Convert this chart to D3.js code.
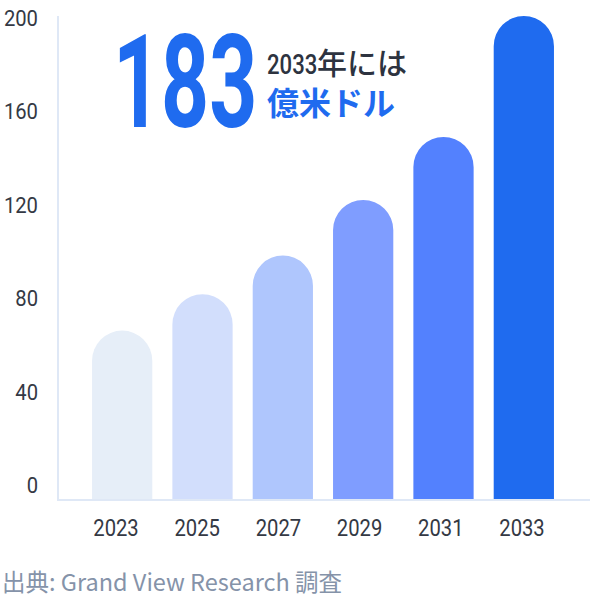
<!DOCTYPE html>
<html>
<head>
<meta charset="utf-8">
<script src="https://cdn.jsdelivr.net/npm/d3@7.9.0/dist/d3.min.js"></script>
<style>
  body { margin: 0; background: #fff; }
  svg { display: block; }
</style>
</head>
<body>
<div id="chart"></div>
<script>
// data (億米ドル)
const years = ['2023', '2025', '2027', '2029', '2031', '2033'];
const values = [70, 85, 101, 124, 150, 200];
const barColors = ['#e6eef8', '#d2defc', '#afc6fd', '#7f9dff', '#5381fe', '#1f6bef'];
const yTicks = [0, 40, 80, 120, 160, 200];

const headline = '183';
const headlineLine1 = ['2033', '年には'];
const headlineLine2 = '億米ドル';
const source = '出典: Grand View Research 調査';

const width = 590;
const height = 604;

const svg = d3.select('#chart')
  .append('svg')
  .attr('width', width)
  .attr('height', height);

// bars run from the x axis line up to the top of the y axis
const yScale = d3.scaleLinear().domain([0, 200]).range([500, 16]);
// tick labels sit in their own evenly spaced column
const yLabel = d3.scaleLinear().domain([0, 200]).range([485.5, 18]);

const xScale = d3.scaleBand()
  .domain(years)
  .range([82, 564])
  .paddingInner(0.25)
  .paddingOuter(0.125);
const xLabel = d3.scalePoint().domain(years).range([116, 522]);

const axisColor = '#dfe8f6';

// y axis labels
const yAxis = svg.append('g')
  .attr('transform', 'translate(38,0) scale(0.92,1)')
  .call(d3.axisLeft(yLabel).tickValues(yTicks).tickSize(0).tickPadding(0));
yAxis.select('.domain').remove();
yAxis.selectAll('text')
  .attr('fill', '#343944')
  .style('font-family', 'Roboto, sans-serif')
  .style('font-size', '22px');

// bars with a round top
function barPath(d, i) {
  const x = xScale(years[i]);
  const w = xScale.bandwidth();
  const r = w / 2;
  const y0 = yScale(0);
  const yt = yScale(d);
  return `M${x},${y0} L${x},${yt + r} A${r},${r} 0 0 1 ${x + w},${yt + r} L${x + w},${y0} Z`;
}

svg.append('g')
  .selectAll('path')
  .data(values)
  .join('path')
  .attr('d', barPath)
  .attr('fill', (d, i) => barColors[i]);

// axis lines
svg.append('line')
  .attr('x1', 58).attr('x2', 58)
  .attr('y1', yScale(200)).attr('y2', yScale(0))
  .attr('stroke', axisColor).attr('stroke-width', 2);
svg.append('line')
  .attr('x1', 57).attr('x2', width)
  .attr('y1', yScale(0)).attr('y2', yScale(0))
  .attr('stroke', axisColor).attr('stroke-width', 2);

// year labels
svg.append('g')
  .selectAll('text')
  .data(years)
  .join('text')
  .attr('transform', (d) => `translate(${xLabel(d)},536) scale(0.88,1)`)
  .attr('text-anchor', 'middle')
  .attr('fill', '#343944')
  .style('font-family', 'Roboto, sans-serif')
  .style('font-size', '23px')
  .text((d) => d);

// headline
svg.append('text')
  .attr('transform', 'translate(113,127) scale(0.65,1)')
  .attr('fill', '#1f6bef')
  .style('font-family', 'Roboto, sans-serif')
  .style('font-weight', 700)
  .style('font-size', '129px')
  .text(headline);

svg.append('text')
  .attr('transform', 'translate(267,74) scale(0.82,1)')
  .attr('fill', '#2d3340')
  .style('font-family', 'Roboto, sans-serif')
  .style('font-weight', 500)
  .style('font-size', '27px')
  .text(headlineLine1[0]);

svg.append('text')
  .attr('x', 317)
  .attr('y', 74)
  .attr('fill', '#2d3340')
  .style('font-family', '"Noto Sans CJK JP", sans-serif')
  .style('font-weight', 500)
  .style('font-size', '30px')
  .text(headlineLine1[1]);

svg.append('text')
  .attr('x', 267)
  .attr('y', 115)
  .attr('fill', '#1f6bef')
  .style('font-family', '"Noto Sans CJK JP", sans-serif')
  .style('font-weight', 700)
  .style('font-size', '32px')
  .text(headlineLine2);

// source note
svg.append('text')
  .attr('x', 2)
  .attr('y', 591)
  .attr('fill', '#8593a9')
  .style('font-family', '"Noto Sans CJK JP", sans-serif')
  .style('font-size', '23.5px')
  .text(source);
</script>
</body>
</html>
